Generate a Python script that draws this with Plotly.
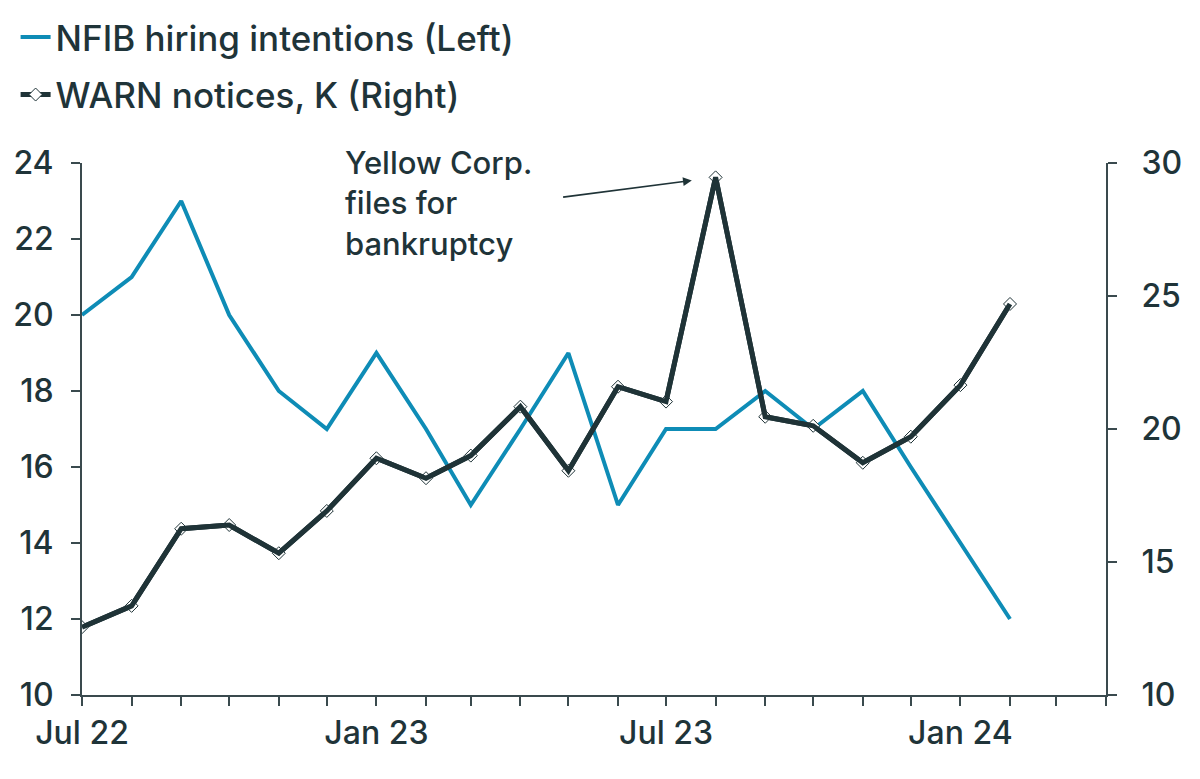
import plotly.graph_objects as go

months = ["2022-07-01", "2022-08-01", "2022-09-01", "2022-10-01", "2022-11-01", "2022-12-01",
          "2023-01-01", "2023-02-01", "2023-03-01", "2023-04-01", "2023-05-01", "2023-06-01",
          "2023-07-01", "2023-08-01", "2023-09-01", "2023-10-01", "2023-11-01", "2023-12-01",
          "2024-01-01", "2024-02-01"]
nfib_hiring = [20, 21, 23, 20, 18, 17, 19, 17, 15, 17, 19, 15, 17, 17, 18, 17, 18, 16, 14, 12]
warn_notices = [12.55, 13.35, 16.25, 16.39, 15.33, 16.92, 18.90, 18.15, 19.00, 20.84, 18.43, 21.59,
                21.03, 29.46, 20.46, 20.12, 18.73, 19.71, 21.65, 24.70]
left_ticks = [10, 12, 14, 16, 18, 20, 22, 24]
right_ticks = [10, 15, 20, 25, 30]

TEXT = "#1f3439"
BLUE = "#0e8cb6"
DARK = "#1f3337"
AXIS = "#3a4a4e"
FONT = "Inter"

fig = go.Figure()
fig.add_trace(go.Scatter(
    x=months, y=nfib_hiring, mode="lines", name="NFIB hiring intentions (Left)",
    line=dict(color=BLUE, width=4), legendgroup="a", yaxis="y"))
fig.add_trace(go.Scatter(
    x=months, y=warn_notices, mode="lines+markers", name="WARN notices, K (Right)",
    line=dict(color=DARK, width=5),
    marker=dict(symbol="diamond", size=10, color="white", line=dict(color=DARK, width=1)),
    legendgroup="b", yaxis="y2"))
fig.add_trace(go.Scatter(
    x=months, y=warn_notices, mode="lines", showlegend=False,
    line=dict(color=DARK, width=5), legendgroup="b", yaxis="y2", hoverinfo="skip"))

fig.add_annotation(
    x=months[13], y=warn_notices[13], xref="x", yref="y2",
    ax=-154, ay=20, axref="pixel", ayref="pixel",
    text="", showarrow=True, arrowhead=2, arrowsize=1.1, arrowwidth=1.6,
    arrowcolor=DARK, standoff=24)
fig.add_annotation(
    x=0.255, y=1.04, xref="paper", yref="paper", xanchor="left", yanchor="top",
    align="left", showarrow=False,
    text="Yellow Corp.<br>files for<br>bankruptcy",
    font=dict(family=FONT, size=31, color=TEXT, weight=500))

fig.update_layout(
    width=1200, height=779,
    margin=dict(l=82, r=94, t=163, b=84, autoexpand=False),
    plot_bgcolor="white", paper_bgcolor="white",
    font=dict(family=FONT, size=32, color=TEXT, weight=500),
    showlegend=True,
    legend=dict(x=0.013, y=0.99, xref="container", yref="container",
                xanchor="left", yanchor="top", traceorder="grouped",
                tracegroupgap=9, font=dict(family=FONT, size=35, color=TEXT, weight=500),
                bgcolor="rgba(0,0,0,0)"),
    xaxis=dict(type="date", range=["2022-07-01", "2024-04-01"],
               tick0="2022-07-01", dtick="M6", tickformat="%b %y",
               ticks="outside", ticklen=9, tickwidth=2, tickcolor=AXIS,
               showline=True, linecolor=AXIS, linewidth=2, showgrid=False, zeroline=False,
               minor=dict(dtick="M1", ticks="outside", ticklen=9, tickwidth=2,
                          tickcolor=AXIS, showgrid=False),
               tickfont=dict(family=FONT, size=32, color=TEXT, weight=500), automargin=False),
    yaxis=dict(range=[10, 24], tickvals=left_ticks, ticks="outside", ticklen=9,
               tickwidth=2, tickcolor=AXIS, showline=True, linecolor=AXIS, linewidth=2,
               showgrid=False, zeroline=False, ticklabelstandoff=11,
               tickfont=dict(family=FONT, size=32, color=TEXT, weight=500), automargin=False),
    yaxis2=dict(range=[10, 30], tickvals=right_ticks, overlaying="y", side="right",
                ticks="outside", ticklen=9, tickwidth=2, tickcolor=AXIS,
                showline=True, linecolor=AXIS, linewidth=2, showgrid=False,
                zeroline=False, ticklabelstandoff=18,
                tickfont=dict(family=FONT, size=32, color=TEXT, weight=500), automargin=False),
)

fig.write_html("out.html", config={"displayModeBar": False},
               post_script="document.body.style.margin='0';")
